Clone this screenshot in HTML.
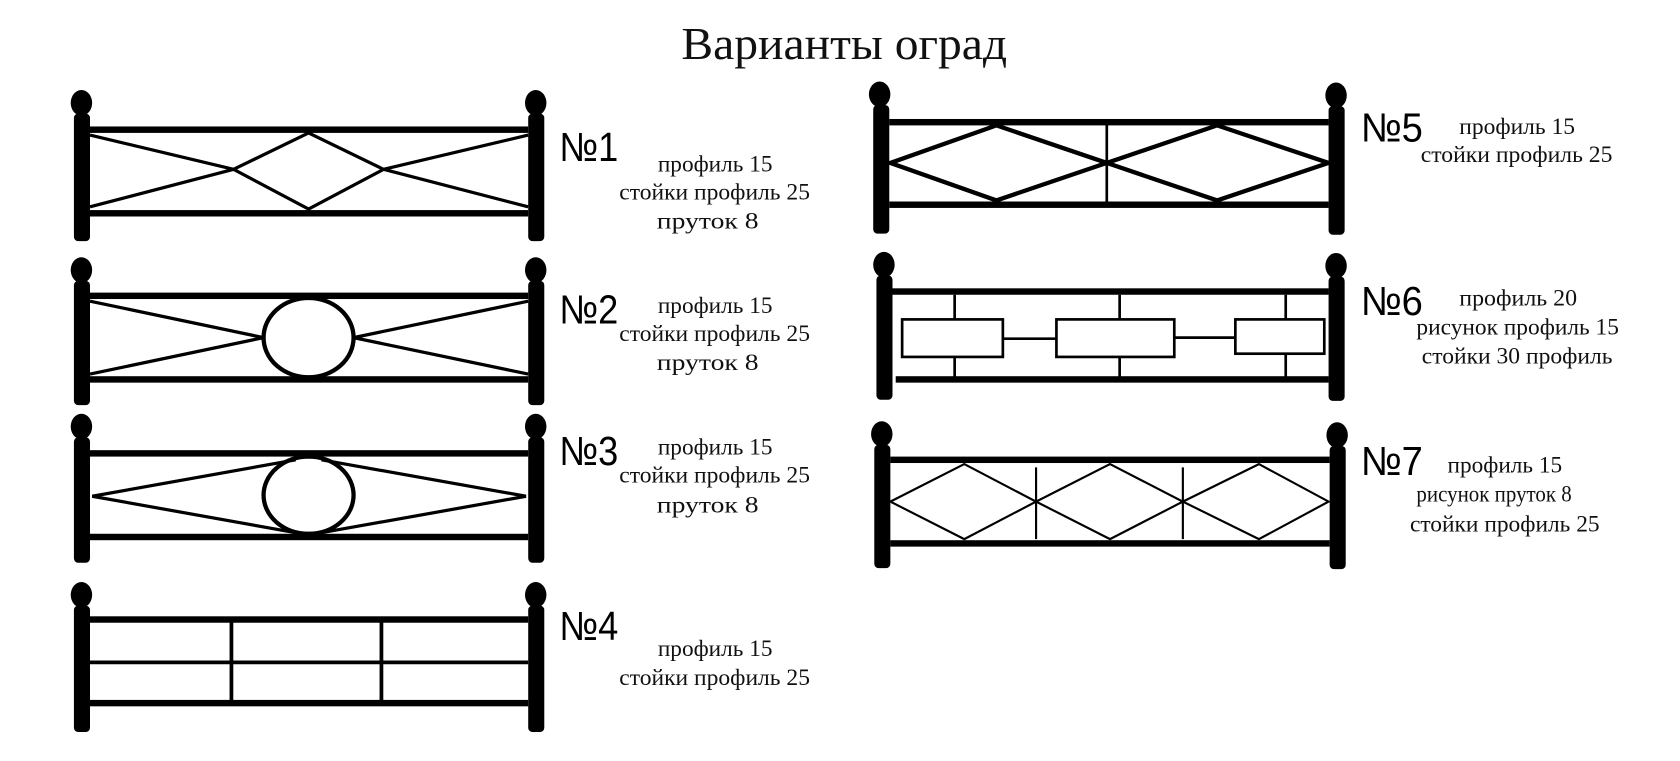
<!DOCTYPE html>
<html><head><meta charset="utf-8"><style>
html,body{margin:0;padding:0;background:#fff;}
svg{display:block;}
.s{font-family:"Liberation Serif",serif;font-size:22px;fill:#111;}
.n{font-family:"Liberation Sans",sans-serif;font-size:38px;fill:#000;}
</style></head><body>
<svg width="1680" height="761" viewBox="0 0 1568 710" xmlns="http://www.w3.org/2000/svg" preserveAspectRatio="none">
<rect width="1568" height="710" fill="#fff"/>
<text x="636" y="55" class="s" style="font-size:42px" textLength="304" lengthAdjust="spacingAndGlyphs">Варианты оград</text>

<g fill="#000">
<ellipse cx="76" cy="96" rx="10" ry="12"/><rect x="69" y="106" width="15" height="119" rx="4"/>
<ellipse cx="500" cy="96" rx="10" ry="12"/><rect x="493" y="106" width="15" height="119" rx="4"/>
<rect x="84" y="118" width="409" height="6"/><rect x="84" y="196" width="409" height="6"/>
<ellipse cx="76" cy="252" rx="10" ry="12"/><rect x="69" y="262" width="15" height="116" rx="4"/>
<ellipse cx="500" cy="252" rx="10" ry="12"/><rect x="493" y="262" width="15" height="116" rx="4"/>
<rect x="84" y="273" width="409" height="6"/><rect x="84" y="351" width="409" height="6"/>
<ellipse cx="76" cy="398" rx="10" ry="12"/><rect x="69" y="408" width="15" height="117" rx="4"/>
<ellipse cx="500" cy="398" rx="10" ry="12"/><rect x="493" y="408" width="15" height="117" rx="4"/>
<rect x="84" y="420" width="409" height="6"/><rect x="84" y="498" width="409" height="6"/>
<ellipse cx="76" cy="555" rx="10" ry="12"/><rect x="69" y="565" width="15" height="118" rx="4"/>
<ellipse cx="500" cy="555" rx="10" ry="12"/><rect x="493" y="565" width="15" height="118" rx="4"/>
<rect x="84" y="575" width="409" height="6"/><rect x="84" y="653" width="409" height="6"/>
<ellipse cx="821" cy="88" rx="10" ry="12"/><rect x="815" y="98" width="15" height="120" rx="4"/>
<ellipse cx="1247" cy="89" rx="10" ry="12"/><rect x="1240" y="99" width="15" height="120" rx="4"/>
<rect x="830" y="111" width="410" height="6"/><rect x="830" y="188" width="410" height="6"/>
<ellipse cx="825" cy="247" rx="10" ry="12"/><rect x="818" y="257" width="15" height="116" rx="4"/>
<ellipse cx="1247" cy="248" rx="10" ry="12"/><rect x="1240" y="258" width="15" height="116" rx="4"/>
<rect x="833" y="269" width="407" height="6"/><rect x="836" y="351" width="404" height="6"/>
<ellipse cx="823" cy="405" rx="10" ry="12"/><rect x="816" y="415" width="15" height="115" rx="4"/>
<ellipse cx="1248" cy="406" rx="10" ry="12"/><rect x="1241" y="416" width="15" height="115" rx="4"/>
<rect x="831" y="426" width="410" height="6"/><rect x="831" y="504" width="410" height="6"/>
</g>

<g fill="none" stroke="#000">
<g stroke-width="3">
<polygon points="288,124 218,158 288,195 358,158"/>
<line x1="84" y1="126" x2="218" y2="158"/><line x1="84" y1="193" x2="218" y2="158"/>
<line x1="493" y1="126" x2="358" y2="158"/><line x1="493" y1="193" x2="358" y2="158"/>
</g>
<ellipse cx="288" cy="315" rx="42" ry="37" stroke-width="4"/>
<g stroke-width="3">
<line x1="84" y1="281" x2="246" y2="315"/><line x1="84" y1="349" x2="246" y2="315"/>
<line x1="493" y1="281" x2="330" y2="315"/><line x1="493" y1="349" x2="330" y2="315"/>
</g>
<ellipse cx="288" cy="462" rx="42" ry="36" stroke-width="4"/>
<g stroke-width="3">
<line x1="86" y1="463" x2="276" y2="429"/><line x1="86" y1="463" x2="276" y2="497"/>
<line x1="491" y1="463" x2="300" y2="429"/><line x1="491" y1="463" x2="300" y2="497"/>
</g>
<g stroke-width="3.5">
<line x1="84" y1="618" x2="493" y2="618"/>
<line x1="216" y1="578" x2="216" y2="656"/><line x1="356" y1="578" x2="356" y2="656"/>
</g>
<g stroke-width="4">
<polygon points="831,152 930,117 1033,152 930,187"/>
<polygon points="1033,152 1136,117 1240,152 1136,187"/>
</g>
<line x1="1033" y1="114" x2="1033" y2="191" stroke-width="2.5"/>
<g stroke-width="2.5">
<rect x="842" y="298" width="94" height="35"/>
<rect x="986" y="298" width="110" height="35"/>
<rect x="1153" y="298" width="83" height="32"/>
<line x1="936" y1="316" x2="986" y2="316"/><line x1="1096" y1="315" x2="1153" y2="315"/>
<line x1="891" y1="275" x2="891" y2="298"/><line x1="891" y1="333" x2="891" y2="354"/>
<line x1="1045" y1="275" x2="1045" y2="298"/><line x1="1045" y1="333" x2="1045" y2="354"/>
<line x1="1200" y1="275" x2="1200" y2="298"/><line x1="1200" y1="330" x2="1200" y2="354"/>
</g>
<g stroke-width="2">
<polygon points="831,468 900,433 967,468 900,503"/>
<polygon points="967,468 1036,433 1104,468 1036,503"/>
<polygon points="1104,468 1175,433 1240,468 1175,503"/>
<line x1="967" y1="436" x2="967" y2="503"/><line x1="1104" y1="436" x2="1104" y2="503"/>
</g>
</g>

<text class="n" x="522" y="150" textLength="55" lengthAdjust="spacingAndGlyphs">№1</text>
<text class="n" x="522" y="302" textLength="55" lengthAdjust="spacingAndGlyphs">№2</text>
<text class="n" x="522" y="434" textLength="55" lengthAdjust="spacingAndGlyphs">№3</text>
<text class="n" x="522" y="597" textLength="55" lengthAdjust="spacingAndGlyphs">№4</text>
<text class="n" x="1270" y="132" textLength="58" lengthAdjust="spacingAndGlyphs">№5</text>
<text class="n" x="1270" y="294" textLength="58" lengthAdjust="spacingAndGlyphs">№6</text>
<text class="n" x="1270" y="443" textLength="58" lengthAdjust="spacingAndGlyphs">№7</text>

<text class="s" x="614" y="160" textLength="107" lengthAdjust="spacingAndGlyphs">профиль 15</text>
<text class="s" x="578" y="186" textLength="178" lengthAdjust="spacingAndGlyphs">стойки профиль 25</text>
<text class="s" x="613" y="213" textLength="95" lengthAdjust="spacingAndGlyphs">пруток 8</text>

<text class="s" x="614" y="292" textLength="107" lengthAdjust="spacingAndGlyphs">профиль 15</text>
<text class="s" x="578" y="318" textLength="178" lengthAdjust="spacingAndGlyphs">стойки профиль 25</text>
<text class="s" x="613" y="345" textLength="95" lengthAdjust="spacingAndGlyphs">пруток 8</text>

<text class="s" x="614" y="424" textLength="107" lengthAdjust="spacingAndGlyphs">профиль 15</text>
<text class="s" x="578" y="450" textLength="178" lengthAdjust="spacingAndGlyphs">стойки профиль 25</text>
<text class="s" x="613" y="478" textLength="95" lengthAdjust="spacingAndGlyphs">пруток 8</text>

<text class="s" x="614" y="612" textLength="107" lengthAdjust="spacingAndGlyphs">профиль 15</text>
<text class="s" x="578" y="639" textLength="178" lengthAdjust="spacingAndGlyphs">стойки профиль 25</text>

<text class="s" x="1362" y="125" textLength="108" lengthAdjust="spacingAndGlyphs">профиль 15</text>
<text class="s" x="1326" y="151" textLength="179" lengthAdjust="spacingAndGlyphs">стойки профиль 25</text>

<text class="s" x="1362" y="285" textLength="110" lengthAdjust="spacingAndGlyphs">профиль 20</text>
<text class="s" x="1322" y="312" textLength="189" lengthAdjust="spacingAndGlyphs">рисунок профиль 15</text>
<text class="s" x="1327" y="339" textLength="178" lengthAdjust="spacingAndGlyphs">стойки 30 профиль</text>

<text class="s" x="1351" y="441" textLength="107" lengthAdjust="spacingAndGlyphs">профиль 15</text>
<text class="s" x="1322" y="468" textLength="145" lengthAdjust="spacingAndGlyphs">рисунок пруток 8</text>
<text class="s" x="1316" y="496" textLength="177" lengthAdjust="spacingAndGlyphs">стойки профиль 25</text>
</svg>
</body></html>
